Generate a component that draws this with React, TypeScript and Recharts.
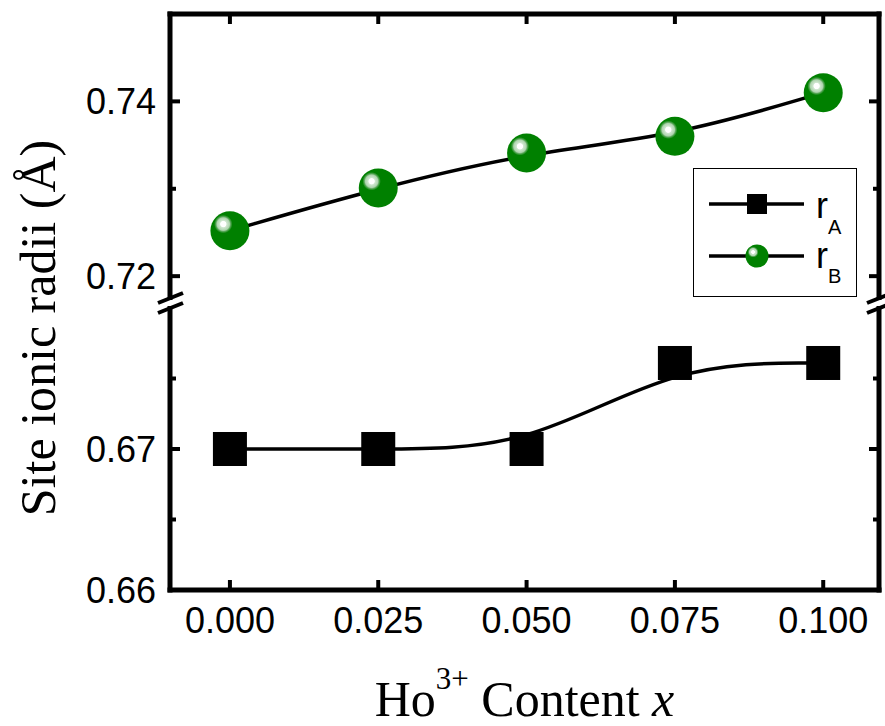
import { LineChart, Line, XAxis, YAxis } from 'recharts'

// Ho3+ content x
const xValues = [0, 0.025, 0.05, 0.075, 0.1]
// A-site and B-site ionic radii (Å)
const rA = [0.67, 0.67, 0.67, 0.6761, 0.6761]
const rB = [0.7252, 0.7301, 0.7341, 0.736, 0.741]

const xMajor = [0, 0.025, 0.05, 0.075, 0.1]
const upperMajor = [0.72, 0.74]
const upperMinor = [0.73]
const lowerMajor = [0.66, 0.67]
const lowerMinor = [0.665, 0.675]

const data = xValues.map((x, i) => ({ x, rA: rA[i], rB: rB[i] }))

const W = 885
const H = 726
const LEFT = 170
const RIGHT = 879
const TOP = 14
const BREAK_TOP = 298
const BREAK_BOTTOM = 308
const BOTTOM = 590

const X_DOMAIN = [-0.0101, 0.1094]
const UPPER_DOMAIN = [0.7175, 0.75]
const LOWER_DOMAIN = [0.66, 0.68]

const GREEN = '#008000'
const SANS = '"Liberation Sans", Arial, sans-serif'
const SERIF = '"Liberation Serif", "Times New Roman", serif'

const axisLine = { stroke: '#000', strokeWidth: 5, strokeLinecap: 'square' as const }

type Side = 'left' | 'right' | 'top' | 'bottom'

// tick marks point into the plot; only major ticks get a label
function axisTick(side: Side, gap: number, majors: number[], digits: number, labelled: boolean) {
  return function Tick(props: any) {
    const { x, y, payload } = props
    const major = majors.includes(payload.value)
    const len = major ? 10 : 6
    let line
    if (side === 'left') line = { x1: x + gap, x2: x + gap + len, y1: y, y2: y }
    else if (side === 'right') line = { x1: x - gap, x2: x - gap - len, y1: y, y2: y }
    else if (side === 'top') line = { x1: x, x2: x, y1: y + gap, y2: y + gap + len }
    else line = { x1: x, x2: x, y1: y - gap, y2: y - gap - len }
    return (
      <g>
        <line {...line} stroke="#000" strokeWidth={4} />
        {labelled && major && (
          <text
            x={x}
            y={y}
            dy={side === 'bottom' ? '0.71em' : '0.355em'}
            textAnchor={side === 'bottom' ? 'middle' : 'end'}
            fontFamily={SANS}
            fontSize={36}
            fill="#000"
          >
            {payload.value.toFixed(digits)}
          </text>
        )}
      </g>
    )
  }
}

function SquareDot(props: any) {
  const { cx, cy, index } = props
  return <rect key={`a-${index}`} x={cx - 17} y={cy - 17} width={34} height={34} fill="#000" />
}

function BallDot(props: any) {
  const { cx, cy, index } = props
  return <circle key={`b-${index}`} cx={cx} cy={cy} r={19.5} fill="url(#ball)" />
}

function LegendBox() {
  return (
    <div
      style={{
        position: 'absolute',
        left: 693,
        top: 168,
        width: 164,
        height: 129,
        border: '1.5px solid #000',
        background: '#fff',
        boxSizing: 'border-box',
      }}
    >
      <svg width={164} height={129} style={{ position: 'absolute', left: -1.5, top: -1.5 }}>
        <line x1={16} x2={111} y1={36} y2={36} stroke="#000" strokeWidth={3.5} />
        <rect x={54} y={26} width={20} height={20} fill="#000" />
        <text x={123} y={50} fontFamily={SANS} fontSize={36}>
          r<tspan fontSize={20} dy={16}>A</tspan>
        </text>
        <line x1={16} x2={111} y1={88} y2={88} stroke="#000" strokeWidth={3.5} />
        <circle cx={64} cy={88} r={11.5} fill="url(#ball)" />
        <text x={123} y={100} fontFamily={SANS} fontSize={36}>
          r<tspan fontSize={20} dy={15}>B</tspan>
        </text>
      </svg>
    </div>
  )
}

// axes get a 1px box, so the margins are one pixel short of the frame
const lowerMargin = { top: BREAK_BOTTOM, right: W - RIGHT - 1, bottom: H - BOTTOM - 1, left: LEFT - 1 }
const upperMargin = { top: TOP - 1, right: W - RIGHT - 1, bottom: H - BREAK_TOP, left: LEFT - 1 }

export default function App() {
  const layer = { position: 'absolute' as const, left: 0, top: 0 }
  return (
    <div style={{ position: 'absolute', left: 0, top: 0, width: W, height: H, background: '#fff' }}>
      <svg width={0} height={0} style={{ position: 'absolute' }}>
        <defs>
          <radialGradient id="ball" cx="0.33" cy="0.33" fx="0.33" fy="0.33" r="0.5">
            <stop offset="0" stopColor="#ffffff" />
            <stop offset="0.14" stopColor="#ffffff" />
            <stop offset="0.18" stopColor="#d0e7d0" />
            <stop offset="0.32" stopColor="#aed3ae" />
            <stop offset="0.38" stopColor="#58a758" />
            <stop offset="0.47" stopColor={GREEN} />
            <stop offset="1" stopColor={GREEN} />
          </radialGradient>
        </defs>
      </svg>

      {/* lower segment: r_A */}
      <div style={layer}>
        <LineChart width={W} height={H} data={data} margin={lowerMargin}>
          <XAxis
            type="number"
            dataKey="x"
            domain={X_DOMAIN}
            ticks={xMajor}
            interval={0}
            allowDataOverflow
            height={1}
            axisLine={axisLine}
            tickLine={false}
            tickSize={0}
            tickMargin={17}
            tick={axisTick('bottom', 17, xMajor, 3, true)}
          />
          <YAxis
            yAxisId="l"
            type="number"
            domain={LOWER_DOMAIN}
            ticks={[...lowerMajor, ...lowerMinor]}
            interval={0}
            allowDataOverflow
            width={1}
            axisLine={axisLine}
            tickLine={false}
            tickSize={0}
            tickMargin={14}
            tick={axisTick('left', 14, lowerMajor, 2, true)}
          />
          <YAxis
            yAxisId="r"
            orientation="right"
            type="number"
            domain={LOWER_DOMAIN}
            ticks={[...lowerMajor, ...lowerMinor]}
            interval={0}
            allowDataOverflow
            width={1}
            axisLine={axisLine}
            tickLine={false}
            tickSize={0}
            tickMargin={0}
            tick={axisTick('right', 0, lowerMajor, 2, false)}
          />
          <Line
            yAxisId="l"
            type="basis"
            dataKey="rA"
            stroke="#000"
            strokeWidth={3.5}
            dot={SquareDot}
            activeDot={false}
            isAnimationActive={false}
          />
        </LineChart>
      </div>

      {/* upper segment: r_B */}
      <div style={layer}>
        <LineChart width={W} height={H} data={data} margin={upperMargin}>
          <XAxis
            type="number"
            dataKey="x"
            orientation="top"
            domain={X_DOMAIN}
            ticks={xMajor}
            interval={0}
            allowDataOverflow
            height={1}
            axisLine={axisLine}
            tickLine={false}
            tickSize={0}
            tickMargin={0}
            tick={axisTick('top', 0, xMajor, 3, false)}
          />
          <YAxis
            yAxisId="l"
            type="number"
            domain={UPPER_DOMAIN}
            ticks={[...upperMajor, ...upperMinor]}
            interval={0}
            allowDataOverflow
            width={1}
            axisLine={axisLine}
            tickLine={false}
            tickSize={0}
            tickMargin={14}
            tick={axisTick('left', 14, upperMajor, 2, true)}
          />
          <YAxis
            yAxisId="r"
            orientation="right"
            type="number"
            domain={UPPER_DOMAIN}
            ticks={[...upperMajor, ...upperMinor]}
            interval={0}
            allowDataOverflow
            width={1}
            axisLine={axisLine}
            tickLine={false}
            tickSize={0}
            tickMargin={0}
            tick={axisTick('right', 0, upperMajor, 2, false)}
          />
          <Line
            yAxisId="l"
            type="basis"
            dataKey="rB"
            stroke="#000"
            strokeWidth={3.5}
            dot={BallDot}
            activeDot={false}
            isAnimationActive={false}
          />
        </LineChart>
      </div>

      <LegendBox />

      {/* axis titles and the break symbols */}
      <svg width={W} height={H} style={{ ...layer, pointerEvents: 'none' }}>
        {[LEFT, RIGHT].map((bx) => (
          <g key={bx}>
            <rect x={bx - 4} y={BREAK_TOP + 2} width={8} height={BREAK_BOTTOM - BREAK_TOP - 4} fill="#fff" />
            <g stroke="#000" strokeWidth={4}>
              <line x1={bx - 12} y1={BREAK_TOP + 5} x2={bx + 13} y2={BREAK_TOP - 5} />
              <line x1={bx - 12} y1={BREAK_BOTTOM + 5} x2={bx + 13} y2={BREAK_BOTTOM - 5} />
            </g>
          </g>
        ))}
        <text
          transform={`translate(55, 328) rotate(-90)`}
          textAnchor="middle"
          fontFamily={SERIF}
          fontSize={50}
        >
          Site ionic radii (Å)
        </text>
        <text x={(LEFT + RIGHT) / 2} y={716} textAnchor="middle" fontFamily={SERIF} fontSize={50}>
          Ho
          <tspan fontSize={31} dy={-27}>3+</tspan>
          <tspan dy={27}>{' Content '}</tspan>
          <tspan fontStyle="italic">x</tspan>
        </text>
      </svg>
    </div>
  )
}
